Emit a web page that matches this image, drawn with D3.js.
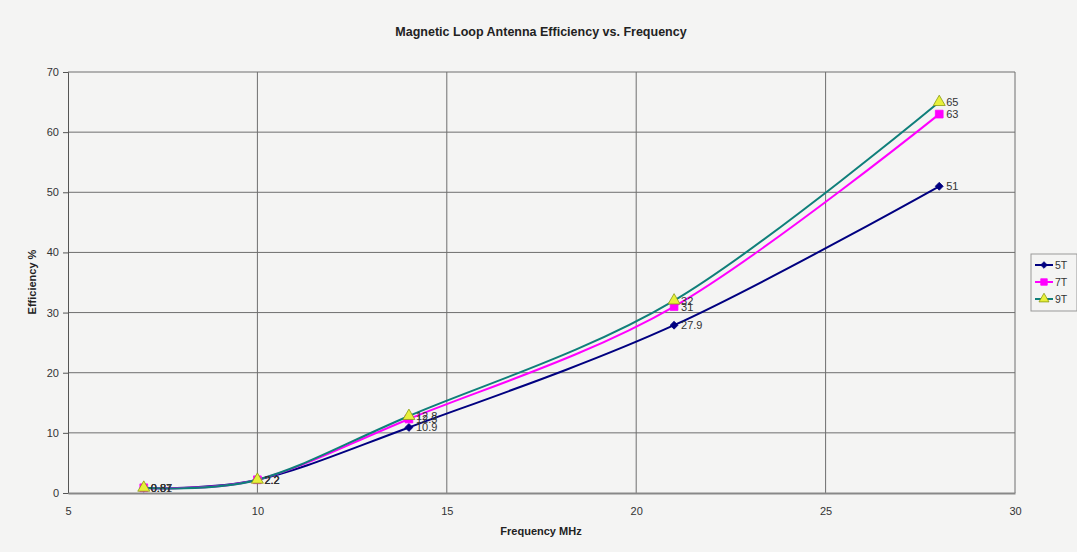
<!DOCTYPE html>
<html>
<head>
<meta charset="utf-8">
<script src="https://cdn.jsdelivr.net/npm/d3@7"></script>
<style>
  html, body { margin: 0; padding: 0; background: #f4f4f3; }
  svg { display: block; font-family: Arial, "Liberation Sans", sans-serif; }
</style>
</head>
<body>
<svg id="chart" width="1077" height="552"></svg>
<script>
// Frequencies (MHz) and efficiency (%) for each winding count
const frequencies = [7, 10, 14, 21, 28];
const eff5T = [0.81, 2.2, 10.9, 27.9, 51];
const eff7T = [0.87, 2.2, 12.3, 31, 63];
const eff9T = [0.87, 2.2, 12.8, 32, 65];
const seriesNames = ["5T", "7T", "9T"];
const xTicks = [5, 10, 15, 20, 25, 30];
const yTicks = [0, 10, 20, 30, 40, 50, 60, 70];

const series = [
  { name: seriesNames[0], values: eff5T, color: "#000080", marker: d3.symbolDiamond2, fill: "#000080", stroke: "#000080", size: 40 },
  { name: seriesNames[1], values: eff7T, color: "#ff00ff", marker: d3.symbolSquare, fill: "#ff00ff", stroke: "#ff00ff", size: 60 },
  { name: seriesNames[2], values: eff9T, color: "#0f7f7a", marker: d3.symbolTriangle, fill: "#e8f03a", stroke: "#8a9a10", size: 62 }
];

const svg = d3.select("#chart");
const plotLeft = 68, plotRight = 1015, plotTop = 72, plotBottom = 493;

const x = d3.scaleLinear().domain([5, 30]).range([plotLeft, plotRight]);
const y = d3.scaleLinear().domain([0, 70]).range([plotBottom, plotTop]);

// Title
svg.append("text")
  .attr("x", 541).attr("y", 36)
  .attr("text-anchor", "middle")
  .attr("font-weight", "bold").attr("font-size", 12.5)
  .attr("fill", "#222")
  .text("Magnetic Loop Antenna Efficiency vs. Frequency");

// Gridlines
const grid = svg.append("g");
grid.selectAll("line.h").data(yTicks.filter(d => d > 0)).join("line")
  .attr("x1", plotLeft).attr("x2", plotRight)
  .attr("y1", d => y(d)).attr("y2", d => y(d))
  .attr("stroke", "#6e6e6e").attr("stroke-width", 1);
grid.selectAll("line.v").data(xTicks.filter(d => d > 5)).join("line")
  .attr("y1", plotTop).attr("y2", plotBottom)
  .attr("x1", d => x(d)).attr("x2", d => x(d))
  .attr("stroke", "#6e6e6e").attr("stroke-width", 1);

// Y axis
const yAxis = svg.append("g")
  .attr("transform", `translate(${plotLeft},0)`)
  .call(d3.axisLeft(y).tickValues(yTicks).tickSize(5).tickPadding(4));
yAxis.select(".domain").attr("stroke", "#555");
yAxis.selectAll(".tick line").attr("stroke", "#555");
yAxis.selectAll("text").attr("font-size", 11).attr("fill", "#333")
  .attr("font-family", "Arial, 'Liberation Sans', sans-serif");

// X axis
const xAxis = svg.append("g")
  .attr("transform", `translate(0,${plotBottom})`)
  .call(d3.axisBottom(x).tickValues(xTicks).tickSize(0).tickPadding(14));
xAxis.select(".domain").attr("stroke", "#888").attr("stroke-width", 2);
xAxis.selectAll("text").attr("font-size", 11).attr("fill", "#333")
  .attr("font-family", "Arial, 'Liberation Sans', sans-serif");

// Axis titles
svg.append("text")
  .attr("x", 541).attr("y", 535)
  .attr("text-anchor", "middle")
  .attr("font-weight", "bold").attr("font-size", 11)
  .attr("fill", "#222")
  .text("Frequency MHz");
svg.append("text")
  .attr("transform", "translate(36,282) rotate(-90)")
  .attr("text-anchor", "middle")
  .attr("font-weight", "bold").attr("font-size", 11)
  .attr("fill", "#222")
  .text("Efficiency %");

// Smoothed series lines
const line = d3.line()
  .x((d, i) => x(frequencies[i]))
  .y(d => y(d))
  .curve(d3.curveCardinal.tension(0));

const plot = svg.append("g");
series.forEach(s => {
  plot.append("path")
    .datum(s.values)
    .attr("d", line)
    .attr("fill", "none")
    .attr("stroke", s.color)
    .attr("stroke-width", 2);
});

// Markers
series.forEach(s => {
  plot.selectAll(null).data(s.values).join("path")
    .attr("transform", (d, i) => `translate(${x(frequencies[i])},${y(d)})`)
    .attr("d", d3.symbol(s.marker, s.size))
    .attr("fill", s.fill)
    .attr("stroke", s.stroke)
    .attr("stroke-width", 0.8);
});

// Data labels, placed to the right of each marker
series.forEach(s => {
  plot.selectAll(null).data(s.values).join("text")
    .attr("x", (d, i) => x(frequencies[i]) + 7)
    .attr("y", d => y(d) + 4)
    .attr("font-size", 11)
    .attr("fill", "#333")
    .text(d => d);
});

// Legend
const legend = svg.append("g").attr("transform", "translate(1031,254)");
legend.append("rect")
  .attr("width", 46).attr("height", 57)
  .attr("fill", "#f4f4f3").attr("stroke", "#999");
series.forEach((s, i) => {
  const ly = 11 + i * 17;
  legend.append("line")
    .attr("x1", 4).attr("x2", 22).attr("y1", ly).attr("y2", ly)
    .attr("stroke", s.color).attr("stroke-width", 2);
  legend.append("path")
    .attr("transform", `translate(13,${ly})`)
    .attr("d", d3.symbol(s.marker, s.size * 0.7))
    .attr("fill", s.fill).attr("stroke", s.stroke).attr("stroke-width", 0.8);
  legend.append("text")
    .attr("x", 24).attr("y", ly + 4)
    .attr("font-size", 10.5).attr("fill", "#333")
    .text(s.name);
});
</script>
</body>
</html>
